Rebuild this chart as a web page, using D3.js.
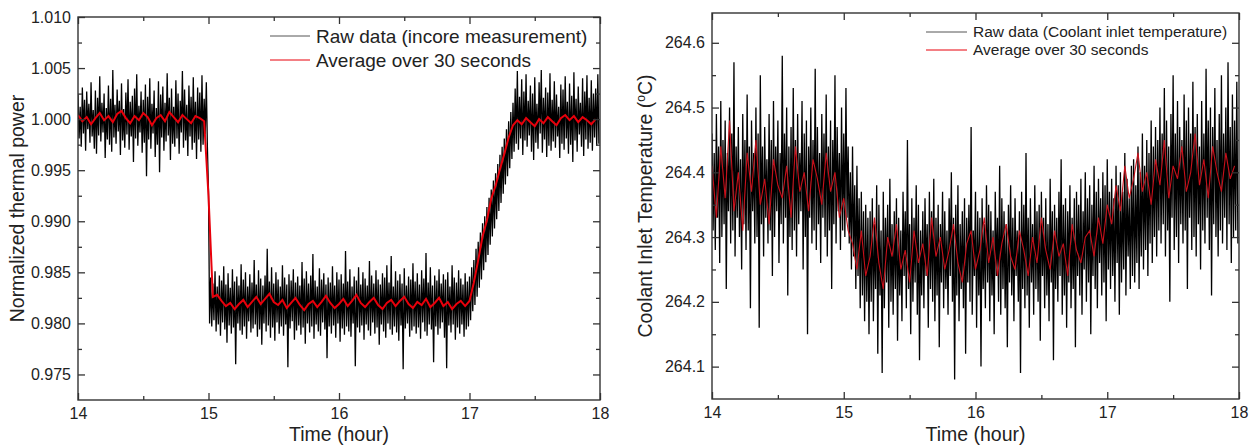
<!DOCTYPE html>
<html>
<head>
<meta charset="utf-8">
<script src="https://cdn.jsdelivr.net/npm/d3@7"></script>
<style>
  body { margin: 0; background: #fff; }
  svg text { font-family: "Liberation Sans", Arial, sans-serif; fill: #222; }
</style>
</head>
<body>
<svg id="chart" width="1256" height="448"></svg>
<script>
// sampling: raw = one value per 30 s, average = one value per 2 minutes, from 14:00
var startHour = 14;
var rawStep = 1 / 120;
var avgStep = 1 / 30;

var xTicks = [14, 15, 16, 17, 18];

// left panel: normalized thermal power
var powerRaw = [
  1.0024, 0.9981, 1.0012, 0.9973, 1.0031, 0.9986, 1.0019, 0.9969, 1.0027, 0.9990,
  1.0015, 0.9977, 1.0036, 0.9983, 1.0009, 0.9971, 1.0028, 0.9966, 1.0021, 0.9984,
  1.0042, 0.9978, 1.0016, 0.9987, 1.0025, 0.9962, 1.0011, 0.9980, 1.0033, 0.9975,
  1.0020, 0.9968, 1.0048, 0.9982, 1.0014, 0.9976, 1.0029, 0.9988, 1.0018, 0.9965,
  1.0035, 0.9979, 1.0010, 0.9972, 1.0026, 0.9985, 1.0039, 0.9970, 1.0017, 0.9983,
  1.0023, 0.9958, 1.0030, 0.9981, 1.0044, 0.9974, 1.0013, 0.9987, 1.0027, 0.9967,
  1.0019, 0.9977, 1.0034, 0.9944, 1.0022, 0.9980, 1.0040, 0.9971, 1.0015, 0.9986,
  1.0028, 0.9963, 1.0011, 0.9975, 1.0037, 0.9948, 1.0024, 0.9982, 1.0032, 0.9969,
  1.0016, 0.9978, 1.0045, 0.9984, 1.0021, 0.9960, 1.0030, 0.9976, 1.0012, 0.9973,
  1.0038, 0.9981, 1.0025, 0.9966, 1.0018, 0.9987, 1.0047, 0.9972, 1.0029, 0.9979,
  1.0014, 0.9964, 1.0033, 0.9983, 1.0022, 0.9970, 1.0041, 0.9977, 1.0017, 0.9961,
  1.0031, 0.9980, 1.0026, 0.9968, 1.0043, 0.9975, 1.0020, 0.9985, 1.0036, 0.9972,
  0.9930, 0.9800,
  0.9845, 0.9797, 0.9839, 0.9803, 0.9851, 0.9792, 0.9836, 0.9799, 0.9847, 0.9788,
  0.9842, 0.9801, 0.9856, 0.9794, 0.9838, 0.9781, 0.9849, 0.9798, 0.9835, 0.9790,
  0.9853, 0.9796, 0.9841, 0.9760, 0.9846, 0.9800, 0.9837, 0.9793, 0.9858, 0.9789,
  0.9843, 0.9797, 0.9850, 0.9785, 0.9836, 0.9802, 0.9848, 0.9791, 0.9840, 0.9795,
  0.9862, 0.9799, 0.9838, 0.9787, 0.9852, 0.9794, 0.9844, 0.9779, 0.9837, 0.9800,
  0.9847, 0.9792, 0.9873, 0.9798, 0.9841, 0.9786, 0.9855, 0.9796, 0.9839, 0.9783,
  0.9850, 0.9801, 0.9843, 0.9790, 0.9836, 0.9797, 0.9857, 0.9788, 0.9845, 0.9799,
  0.9838, 0.9757, 0.9848, 0.9795, 0.9842, 0.9802, 0.9853, 0.9784, 0.9840, 0.9793,
  0.9846, 0.9798, 0.9837, 0.9789, 0.9860, 0.9796, 0.9844, 0.9780, 0.9851, 0.9800,
  0.9839, 0.9791, 0.9847, 0.9797, 0.9868, 0.9785, 0.9842, 0.9799, 0.9836, 0.9792,
  0.9854, 0.9788, 0.9843, 0.9801, 0.9849, 0.9794, 0.9838, 0.9766, 0.9845, 0.9797,
  0.9840, 0.9790, 0.9856, 0.9798, 0.9837, 0.9786, 0.9850, 0.9800, 0.9843, 0.9782,
  0.9848, 0.9795, 0.9839, 0.9789, 0.9871, 0.9797, 0.9841, 0.9792, 0.9853, 0.9787,
  0.9836, 0.9800, 0.9846, 0.9758, 0.9842, 0.9796, 0.9855, 0.9791, 0.9838, 0.9798,
  0.9850, 0.9784, 0.9844, 0.9799, 0.9837, 0.9793, 0.9861, 0.9788, 0.9847, 0.9801,
  0.9839, 0.9790, 0.9852, 0.9796, 0.9843, 0.9779, 0.9838, 0.9799, 0.9849, 0.9792,
  0.9845, 0.9786, 0.9857, 0.9800, 0.9840, 0.9794, 0.9866, 0.9789, 0.9836, 0.9797,
  0.9851, 0.9791, 0.9842, 0.9783, 0.9848, 0.9798, 0.9839, 0.9755, 0.9854, 0.9795,
  0.9837, 0.9800, 0.9846, 0.9787, 0.9843, 0.9793, 0.9859, 0.9797, 0.9841, 0.9790,
  0.9849, 0.9796, 0.9838, 0.9785, 0.9852, 0.9801, 0.9844, 0.9792, 0.9869, 0.9788,
  0.9840, 0.9799, 0.9855, 0.9794, 0.9837, 0.9762, 0.9847, 0.9797, 0.9842, 0.9789,
  0.9853, 0.9795, 0.9839, 0.9801, 0.9848, 0.9786, 0.9843, 0.9756, 0.9850, 0.9798,
  0.9836, 0.9791, 0.9857, 0.9799, 0.9845, 0.9784, 0.9840, 0.9796, 0.9852, 0.9790,
  0.9844, 0.9799, 0.9838, 0.9787, 0.9849, 0.9794, 0.9841, 0.9797,
  0.9846, 0.9803, 0.9855, 0.9812, 0.9862, 0.9818, 0.9873, 0.9826, 0.9880, 0.9835,
  0.9889, 0.9843, 0.9898, 0.9852, 0.9905, 0.9860, 0.9914, 0.9867, 0.9923, 0.9877,
  0.9931, 0.9885, 0.9940, 0.9893, 0.9947, 0.9902, 0.9956, 0.9910, 0.9965, 0.9918,
  0.9973, 0.9927, 0.9981, 0.9936, 0.9990, 0.9944, 0.9998, 0.9952, 1.0007, 0.9961,
  1.0016, 0.9968,
  1.0030, 0.9976, 1.0047, 0.9970, 1.0022, 0.9981, 1.0039, 0.9965, 1.0027, 0.9979,
  1.0044, 0.9973, 1.0018, 0.9984, 1.0033, 0.9968, 1.0025, 0.9960, 1.0041, 0.9977,
  1.0015, 0.9971, 1.0036, 0.9986, 1.0048, 0.9967, 1.0021, 0.9980, 1.0031, 0.9963,
  1.0026, 0.9974, 1.0045, 0.9969, 1.0019, 0.9978, 1.0037, 0.9972, 1.0024, 0.9983,
  1.0012, 0.9962, 1.0034, 0.9976, 1.0029, 0.9970, 1.0042, 0.9981, 1.0017, 0.9966,
  1.0035, 0.9975, 1.0023, 0.9958, 1.0046, 0.9979, 1.0020, 0.9968, 1.0032, 0.9985,
  1.0016, 0.9973, 1.0040, 0.9964, 1.0027, 0.9980, 1.0043, 0.9971, 1.0021, 0.9977,
  1.0038, 0.9969, 1.0025, 0.9982, 1.0030, 0.9974, 1.0044, 0.9976
];

var powerAvg = [
  1.0004, 0.9998, 1.0002, 0.9995, 1.0001, 1.0006, 0.9999, 1.0003, 0.9997, 1.0005,
  1.0008, 1.0001, 0.9996, 1.0003, 0.9999, 1.0006, 1.0002, 0.9994, 1.0001, 1.0004,
  0.9998, 1.0007, 1.0002, 0.9997, 1.0004, 1.0000, 0.9996, 1.0003, 1.0001, 0.9998,
  0.9925, 0.9826,
  0.9828, 0.9822, 0.9817, 0.9820, 0.9814, 0.9819, 0.9823, 0.9816, 0.9821, 0.9826,
  0.9819, 0.9824, 0.9829, 0.9821, 0.9818, 0.9823, 0.9815, 0.9820, 0.9825, 0.9818,
  0.9813, 0.9819, 0.9822, 0.9816, 0.9821, 0.9827, 0.9820, 0.9815, 0.9819, 0.9824,
  0.9817, 0.9822, 0.9828, 0.9820, 0.9816, 0.9821, 0.9825, 0.9818, 0.9814, 0.9820,
  0.9823, 0.9817, 0.9822, 0.9826, 0.9819, 0.9815, 0.9821, 0.9818, 0.9824, 0.9816,
  0.9820, 0.9825, 0.9817, 0.9821, 0.9814, 0.9819, 0.9822, 0.9817,
  0.9822, 0.9840, 0.9862, 0.9885, 0.9901, 0.9922, 0.9935, 0.9951, 0.9966, 0.9982, 0.9994,
  0.9999, 0.9995, 1.0001, 0.9997, 0.9993, 1.0000, 0.9996, 1.0002, 0.9998, 0.9994,
  1.0001, 1.0004, 0.9999, 1.0003, 0.9997, 1.0002, 0.9999, 0.9995, 1.0000
];

var powerTicks = [0.975, 0.980, 0.985, 0.990, 0.995, 1.000, 1.005, 1.010];

// right panel: coolant inlet temperature
var tempRaw = [
  264.46, 264.31, 264.43, 264.28, 264.49, 264.33, 264.44, 264.26, 264.51, 264.30,
  264.45, 264.32, 264.48, 264.22, 264.43, 264.34, 264.50, 264.29, 264.46, 264.31,
  264.57, 264.27, 264.44, 264.33, 264.47, 264.30, 264.42, 264.25, 264.49, 264.32,
  264.45, 264.28, 264.52, 264.31, 264.44, 264.19, 264.48, 264.34, 264.43, 264.29,
  264.50, 264.30, 264.46, 264.16, 264.55, 264.32, 264.44, 264.27, 264.47, 264.33,
  264.42, 264.29, 264.49, 264.31, 264.45, 264.24, 264.51, 264.30, 264.44, 264.34,
  264.48, 264.26, 264.43, 264.32, 264.58, 264.29, 264.46, 264.33, 264.50, 264.21,
  264.44, 264.30, 264.47, 264.28, 264.53, 264.31, 264.45, 264.27, 264.49, 264.32,
  264.43, 264.34, 264.51, 264.25, 264.46, 264.30, 264.48, 264.15, 264.44, 264.33,
  264.50, 264.29, 264.45, 264.31, 264.56, 264.28, 264.47, 264.32, 264.43, 264.26,
  264.49, 264.33, 264.46, 264.30, 264.52, 264.27, 264.44, 264.31, 264.48, 264.22,
  264.45, 264.32, 264.55, 264.29, 264.47, 264.34, 264.43, 264.28, 264.50, 264.31,
  264.46, 264.30, 264.53, 264.33, 264.44, 264.29,
  264.40, 264.25, 264.44, 264.27, 264.38, 264.22, 264.41, 264.24, 264.36, 264.19,
  264.37, 264.21, 264.34, 264.17, 264.35, 264.20, 264.33, 264.15,
  264.34, 264.20, 264.36, 264.17, 264.32, 264.22, 264.38, 264.12, 264.35, 264.21,
  264.31, 264.09, 264.37, 264.19, 264.33, 264.23, 264.35, 264.16, 264.39, 264.20,
  264.32, 264.18, 264.34, 264.22, 264.36, 264.14, 264.33, 264.21, 264.31, 264.17,
  264.37, 264.24, 264.34, 264.19, 264.45, 264.22, 264.32, 264.15, 264.36, 264.20,
  264.33, 264.23, 264.38, 264.18, 264.35, 264.11, 264.31, 264.21, 264.34, 264.19,
  264.36, 264.24, 264.32, 264.16, 264.37, 264.22, 264.34, 264.20, 264.39, 264.17,
  264.33, 264.21, 264.35, 264.13, 264.32, 264.23, 264.37, 264.19, 264.34, 264.22,
  264.31, 264.18, 264.36, 264.24, 264.40, 264.20, 264.33, 264.08, 264.35, 264.21,
  264.38, 264.17, 264.32, 264.22, 264.34, 264.19, 264.36, 264.12, 264.33, 264.23,
  264.35, 264.20, 264.47, 264.18, 264.31, 264.24, 264.37, 264.16, 264.34, 264.21,
  264.33, 264.10, 264.36, 264.22, 264.32, 264.19, 264.38, 264.23, 264.35, 264.17,
  264.34, 264.21, 264.31, 264.15, 264.37, 264.24, 264.33, 264.20, 264.41, 264.18,
  264.36, 264.22, 264.34, 264.19, 264.32, 264.13, 264.35, 264.23, 264.38, 264.21,
  264.33, 264.17, 264.36, 264.24, 264.31, 264.20, 264.34, 264.09, 264.37, 264.22,
  264.35, 264.19, 264.43, 264.21, 264.33, 264.16, 264.36, 264.23, 264.32, 264.18,
  264.38, 264.22, 264.34, 264.20, 264.35, 264.14, 264.37, 264.24, 264.33, 264.19,
  264.36, 264.21, 264.32, 264.17, 264.39, 264.23, 264.34, 264.11, 264.35, 264.22,
  264.33, 264.20, 264.37, 264.24, 264.42, 264.18, 264.35, 264.21, 264.36, 264.16,
  264.34, 264.23, 264.38, 264.19, 264.33, 264.22, 264.36, 264.13, 264.37, 264.24,
  264.35, 264.21, 264.39, 264.18, 264.34, 264.25, 264.40, 264.20, 264.36, 264.23,
  264.38, 264.15, 264.35, 264.24, 264.41, 264.22, 264.37, 264.19, 264.39, 264.26,
  264.36, 264.21, 264.40, 264.23, 264.38, 264.17, 264.42, 264.25, 264.37, 264.22,
  264.39, 264.24, 264.36, 264.20, 264.41, 264.26, 264.38, 264.18, 264.40, 264.23,
  264.37, 264.25, 264.43, 264.21, 264.39, 264.27, 264.36, 264.22, 264.41, 264.24,
  264.42, 264.23, 264.38, 264.26, 264.44, 264.22, 264.40, 264.27, 264.46, 264.25,
  264.41, 264.28, 264.45, 264.24, 264.43, 264.29, 264.48, 264.26, 264.44, 264.30,
  264.47, 264.27, 264.45, 264.31,
  264.50, 264.29, 264.46, 264.32, 264.53, 264.27, 264.48, 264.31, 264.44, 264.20,
  264.49, 264.33, 264.55, 264.28, 264.46, 264.30, 264.51, 264.26, 264.47, 264.32,
  264.45, 264.29, 264.52, 264.31, 264.48, 264.22, 264.50, 264.33, 264.46, 264.28,
  264.54, 264.30, 264.47, 264.27, 264.49, 264.32, 264.44, 264.25, 264.51, 264.31,
  264.46, 264.29, 264.56, 264.33, 264.48, 264.28, 264.50, 264.21, 264.47, 264.32,
  264.53, 264.30, 264.45, 264.27, 264.49, 264.31, 264.55, 264.29, 264.46, 264.33,
  264.50, 264.28, 264.57, 264.32, 264.47, 264.26, 264.52, 264.30, 264.48, 264.31,
  264.54, 264.29
];

var tempAvg = [
  264.41, 264.33, 264.44, 264.36, 264.48, 264.34, 264.40, 264.31, 264.43, 264.37,
  264.45, 264.35, 264.39, 264.32, 264.42, 264.38, 264.36, 264.41, 264.33, 264.44,
  264.37, 264.40, 264.34, 264.42, 264.39, 264.35, 264.43, 264.37, 264.40, 264.33,
  264.36, 264.31,
  264.29, 264.25, 264.31, 264.24, 264.27, 264.33, 264.26, 264.22, 264.30, 264.27,
  264.32, 264.25, 264.28, 264.23, 264.31, 264.26, 264.29, 264.24, 264.33, 264.27,
  264.30, 264.25, 264.28, 264.32, 264.26, 264.23, 264.29, 264.31, 264.25, 264.28,
  264.33, 264.26, 264.30, 264.24, 264.29, 264.32, 264.27, 264.25, 264.31, 264.28,
  264.24, 264.30, 264.26, 264.33, 264.28, 264.25, 264.31, 264.27, 264.29, 264.24,
  264.32, 264.28, 264.26, 264.30,
  264.31, 264.27, 264.33, 264.29, 264.35, 264.32, 264.38, 264.34, 264.41, 264.36,
  264.39, 264.43, 264.37, 264.40, 264.35, 264.42, 264.38, 264.45, 264.36, 264.41,
  264.39, 264.44, 264.37, 264.40, 264.46, 264.38, 264.42, 264.36, 264.44, 264.40,
  264.37, 264.43, 264.39, 264.41
];

var tempTicks = [264.1, 264.2, 264.3, 264.4, 264.5, 264.6];

var svg = d3.select("#chart");

function toPoints(values, step) {
  return values.map(function(v, i) { return { t: startHour + i * step, v: v }; });
}

function drawPanel(opt) {
  var x = d3.scaleLinear().domain([14, 18]).range([opt.left, opt.right]);
  var y = d3.scaleLinear().domain(opt.yDomain).range([opt.bottom, opt.top]);
  var g = svg.append("g");

  g.append("clipPath").attr("id", opt.id + "-clip")
    .append("rect")
    .attr("x", opt.left).attr("y", opt.top)
    .attr("width", opt.right - opt.left).attr("height", opt.bottom - opt.top);

  var line = d3.line().x(function(d) { return x(d.t); }).y(function(d) { return y(d.v); });

  var plot = g.append("g").attr("clip-path", "url(#" + opt.id + "-clip)");
  plot.append("path")
    .datum(toPoints(opt.raw, rawStep))
    .attr("d", line)
    .attr("fill", "none")
    .attr("stroke", "#000")
    .attr("stroke-width", 1.3);
  plot.append("path")
    .datum(toPoints(opt.avg, avgStep))
    .attr("d", line)
    .attr("fill", "none")
    .attr("stroke", opt.avgColor)
    .attr("stroke-width", opt.avgWidth);

  var xMinor = [14.5, 15.5, 16.5, 17.5];

  function styleAxis(sel) {
    sel.select(".domain").remove();
    sel.selectAll(".tick line").attr("stroke", "#333").attr("stroke-width", 1.3);
    sel.selectAll(".tick text").style("font-size", "16px").attr("fill", "#222");
  }

  // bottom
  g.append("g").attr("transform", "translate(0," + opt.bottom + ")")
    .call(d3.axisBottom(x).tickValues(xTicks).tickFormat(d3.format("d"))
      .tickSizeInner(-7).tickSizeOuter(0).tickPadding(8))
    .call(styleAxis);
  g.append("g").attr("transform", "translate(0," + opt.bottom + ")")
    .call(d3.axisBottom(x).tickValues(xMinor).tickFormat("").tickSizeInner(-4).tickSizeOuter(0))
    .call(styleAxis);
  // top
  g.append("g").attr("transform", "translate(0," + opt.top + ")")
    .call(d3.axisTop(x).tickValues(xTicks).tickFormat("").tickSizeInner(-7).tickSizeOuter(0))
    .call(styleAxis);
  g.append("g").attr("transform", "translate(0," + opt.top + ")")
    .call(d3.axisTop(x).tickValues(xMinor).tickFormat("").tickSizeInner(-4).tickSizeOuter(0))
    .call(styleAxis);
  // left
  g.append("g").attr("transform", "translate(" + opt.left + ",0)")
    .call(d3.axisLeft(y).tickValues(opt.yTicks).tickFormat(d3.format(opt.yFormat))
      .tickSizeInner(-7).tickSizeOuter(0).tickPadding(7))
    .call(styleAxis);
  g.append("g").attr("transform", "translate(" + opt.left + ",0)")
    .call(d3.axisLeft(y).tickValues(opt.yMinor).tickFormat("").tickSizeInner(-4).tickSizeOuter(0))
    .call(styleAxis);
  // right
  g.append("g").attr("transform", "translate(" + opt.right + ",0)")
    .call(d3.axisRight(y).tickValues(opt.yTicks).tickFormat("").tickSizeInner(-7).tickSizeOuter(0))
    .call(styleAxis);
  g.append("g").attr("transform", "translate(" + opt.right + ",0)")
    .call(d3.axisRight(y).tickValues(opt.yMinor).tickFormat("").tickSizeInner(-4).tickSizeOuter(0))
    .call(styleAxis);

  g.append("rect")
    .attr("x", opt.left).attr("y", opt.top)
    .attr("width", opt.right - opt.left).attr("height", opt.bottom - opt.top)
    .attr("fill", "none").attr("stroke", "#333").attr("stroke-width", 1.4);

  // axis titles
  g.append("text")
    .attr("x", (opt.left + opt.right) / 2).attr("y", 441)
    .attr("text-anchor", "middle").style("font-size", "19.5px")
    .text("Time (hour)");

  var yt = g.append("text")
    .attr("transform", "translate(" + opt.yTitleX + "," + (opt.top + opt.bottom) / 2 + ") rotate(-90)")
    .attr("text-anchor", "middle").style("font-size", "19.5px");
  opt.yTitle(yt);

  // legend
  var lg = g.append("g");
  opt.legend.forEach(function(item, i) {
    var ly = opt.legendY + i * opt.legendGap;
    lg.append("line")
      .attr("x1", opt.legendX).attr("x2", opt.legendX + opt.legendLen)
      .attr("y1", ly).attr("y2", ly)
      .attr("stroke", item.color).attr("stroke-width", 1);
    lg.append("text")
      .attr("x", opt.legendX + opt.legendLen + 6).attr("y", ly)
      .attr("dy", "0.35em")
      .style("font-size", opt.legendFont)
      .text(item.label);
  });
}

drawPanel({
  id: "power",
  left: 78, right: 600, top: 17, bottom: 400,
  yDomain: [0.9725, 1.010],
  yTicks: powerTicks,
  yMinor: [0.9775, 0.9825, 0.9875, 0.9925, 0.9975, 1.0025, 1.0075],
  yFormat: ".3f",
  raw: powerRaw, avg: powerAvg,
  avgColor: "#e8000b", avgWidth: 2,
  yTitleX: 24,
  yTitle: function(t) { t.text("Normalized thermal power"); },
  legend: [
    { label: "Raw data (incore measurement)", color: "#555" },
    { label: "Average over 30 seconds", color: "#e8000b" }
  ],
  legendX: 270, legendY: 36, legendGap: 24, legendLen: 40, legendFont: "19px"
});

drawPanel({
  id: "temp",
  left: 712, right: 1239, top: 13, bottom: 399,
  yDomain: [264.05, 264.646],
  yTicks: tempTicks,
  yMinor: [264.15, 264.25, 264.35, 264.45, 264.55],
  yFormat: ".1f",
  raw: tempRaw, avg: tempAvg,
  avgColor: "#c8101a", avgWidth: 1.1,
  yTitleX: 652,
  yTitle: function(t) {
    t.append("tspan").text("Coolant Inlet Temperature (");
    t.append("tspan").attr("baseline-shift", "super").style("font-size", "12px").text("o");
    t.append("tspan").text("C)");
  },
  legend: [
    { label: "Raw data (Coolant inlet temperature)", color: "#555" },
    { label: "Average over 30 seconds", color: "#e8000b" }
  ],
  legendX: 926, legendY: 32, legendGap: 18, legendLen: 41, legendFont: "15.5px"
});
</script>
</body>
</html>
